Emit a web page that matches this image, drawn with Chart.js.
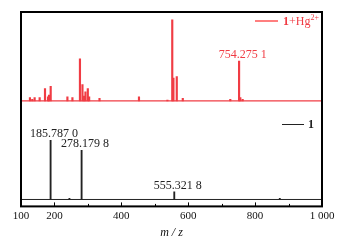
<!DOCTYPE html>
<html>
<head>
<meta charset="utf-8">
<script src="https://cdn.jsdelivr.net/npm/chart.js@4"></script>
<style>
  html, body { margin: 0; padding: 0; background: #fff; }
  #wrap { width: 346px; height: 247px; }
</style>
</head>
<body>
<div id="wrap"><canvas id="ms"></canvas></div>
<script>
// ---------- Data ----------
// 1 + Hg2+ spectrum (upper trace), relative intensity %
const redMz  = [129, 136, 143, 158, 174, 183, 186, 191, 241, 256, 278.5, 286, 291, 295, 302, 306, 337, 455, 540, 554.5, 558, 568, 586, 728, 754.3, 758, 765];
const redInt = [4,   2,   4,   4,   15,  5,   7,   18,  5,   4,   52,    20,  6,   11,  15,  5,   3,   5,   1,   100,   28,  30,  3,   2,   49,    4,   2];

// compound 1 spectrum (lower trace), relative intensity %
const blackMz  = [186.7, 243, 279.4, 556.5, 872];
const blackInt = [100,   2,   83,    13,    2];

// labelled peaks
const redLabelMz = [754.3];
const redLabels = ["754.275 1"];
const blackLabelMz = [186.7, 279.4, 556.5];
const blackLabels = ["185.787 0", "278.179 8", "555.321 8"];

// x axis
const tickValues = [100, 200, 400, 600, 800, 1000];
const tickLabels = ["100", "200", "400", "600", "800", "1 000"];
const minorTicks = [300, 500, 700, 900];

const RED = "#f03c44";
const BLACK = "#222";
const SERIF = "'Liberation Serif', 'DejaVu Serif', serif";

function toPoints(xs, ys) {
  return xs.map((x, i) => ({ x: x, y: ys[i] }));
}

// ---------- Frame, ticks, labels, legends ----------
const decorPlugin = {
  id: "decor",
  afterDraw(chart) {
    const ctx = chart.ctx;
    const a = chart.chartArea;
    const xs = chart.scales.x;

    ctx.save();
    // frame
    ctx.strokeStyle = "#000";
    ctx.lineWidth = 2;
    ctx.strokeRect(a.left, a.top, a.right - a.left, a.bottom - a.top);

    // inward ticks on the bottom axis
    ctx.lineWidth = 1;
    tickValues.forEach((v) => {
      if (v === 100 || v === 1000) return;
      const px = Math.round(xs.getPixelForValue(v)) + 0.5;
      ctx.beginPath();
      ctx.moveTo(px, a.bottom);
      ctx.lineTo(px, a.bottom - 4);
      ctx.stroke();
    });
    minorTicks.forEach((v) => {
      const px = Math.round(xs.getPixelForValue(v)) + 0.5;
      ctx.beginPath();
      ctx.moveTo(px, a.bottom);
      ctx.lineTo(px, a.bottom - 2.5);
      ctx.stroke();
    });

    // peak labels
    ctx.font = "12px " + SERIF;
    ctx.textAlign = "center";
    ctx.textBaseline = "alphabetic";
    const yr = chart.scales.yRed;
    const yb = chart.scales.yBlack;
    ctx.fillStyle = RED;
    redLabelMz.forEach((m, i) => {
      const h = redInt[redMz.indexOf(m)];
      ctx.fillText(redLabels[i], xs.getPixelForValue(m) + 3, yr.getPixelForValue(h) - 3);
    });
    ctx.fillStyle = BLACK;
    blackLabelMz.forEach((m, i) => {
      const h = blackInt[blackMz.indexOf(m)];
      ctx.fillText(blackLabels[i], xs.getPixelForValue(m) + 4, yb.getPixelForValue(h) - 3);
    });

    // legend: 1 + Hg2+
    let lx = a.right - 67, ly = a.top + 9;
    ctx.strokeStyle = "#f55";
    ctx.lineWidth = 1.5;
    ctx.beginPath();
    ctx.moveTo(lx, ly);
    ctx.lineTo(lx + 23, ly);
    ctx.stroke();
    ctx.fillStyle = RED;
    ctx.textAlign = "left";
    ctx.textBaseline = "middle";
    let tx = lx + 28;
    ctx.font = "bold 12px " + SERIF;
    ctx.fillText("1", tx, ly + 1);
    tx += ctx.measureText("1").width;
    ctx.font = "12px " + SERIF;
    ctx.fillText("+Hg", tx, ly + 1);
    tx += ctx.measureText("+Hg").width;
    ctx.font = "8px " + SERIF;
    ctx.fillText("2+", tx, ly - 3);

    // legend: 1
    lx = a.right - 40; ly = a.top + 112;
    ctx.strokeStyle = BLACK;
    ctx.lineWidth = 1;
    ctx.beginPath();
    ctx.moveTo(lx, ly + 0.5);
    ctx.lineTo(lx + 22, ly + 0.5);
    ctx.stroke();
    ctx.fillStyle = BLACK;
    ctx.font = "bold 12px " + SERIF;
    ctx.fillText("1", lx + 26, ly + 1);
    ctx.restore();
  }
};

// ---------- Chart ----------
new Chart(document.getElementById("ms"), {
  type: "bar",
  data: {
    datasets: [
      {
        label: "1+Hg2+",
        data: toPoints(redMz, redInt),
        yAxisID: "yRed",
        backgroundColor: RED,
        barThickness: 1.5
      },
      {
        type: "line",
        label: "baseline red",
        data: toPoints([100, 1000], [0, 0]),
        yAxisID: "yRed",
        borderColor: RED,
        borderWidth: 1.3,
        pointRadius: 0
      },
      {
        label: "1",
        data: toPoints(blackMz, blackInt),
        yAxisID: "yBlack",
        backgroundColor: BLACK,
        barThickness: 1.2
      },
      {
        type: "line",
        label: "baseline black",
        data: toPoints([100, 1000], [0, 0]),
        yAxisID: "yBlack",
        borderColor: BLACK,
        borderWidth: 1,
        pointRadius: 0
      }
    ]
  },
  options: {
    responsive: true,
    maintainAspectRatio: false,
    animation: false,
    layout: { padding: { left: 21, right: 24, top: 12, bottom: 7 } },
    plugins: { legend: { display: false }, tooltip: { enabled: false } },
    scales: {
      x: {
        type: "linear",
        min: 100,
        max: 1000,
        offset: false,
        grid: { display: false, drawTicks: false, offset: false },
        border: { display: false },
        afterBuildTicks: (scale) => {
          scale.ticks = tickValues.map((v) => ({ value: v }));
        },
        ticks: {
          padding: 3,
          maxRotation: 0,
          autoSkip: false,
          color: "#111",
          font: { family: SERIF, size: 11 },
          callback: (v) => tickLabels[tickValues.indexOf(v)]
        },
        title: {
          display: true,
          text: "m / z",
          color: "#111",
          padding: { top: 0, bottom: 0 },
          font: { family: SERIF, size: 12, style: "italic" }
        }
      },
      yRed: { display: false, min: -130.5, max: 109.8 },
      yBlack: { display: false, min: -11.7, max: 316.7 }
    }
  },
  plugins: [decorPlugin]
});
</script>
</body>
</html>
